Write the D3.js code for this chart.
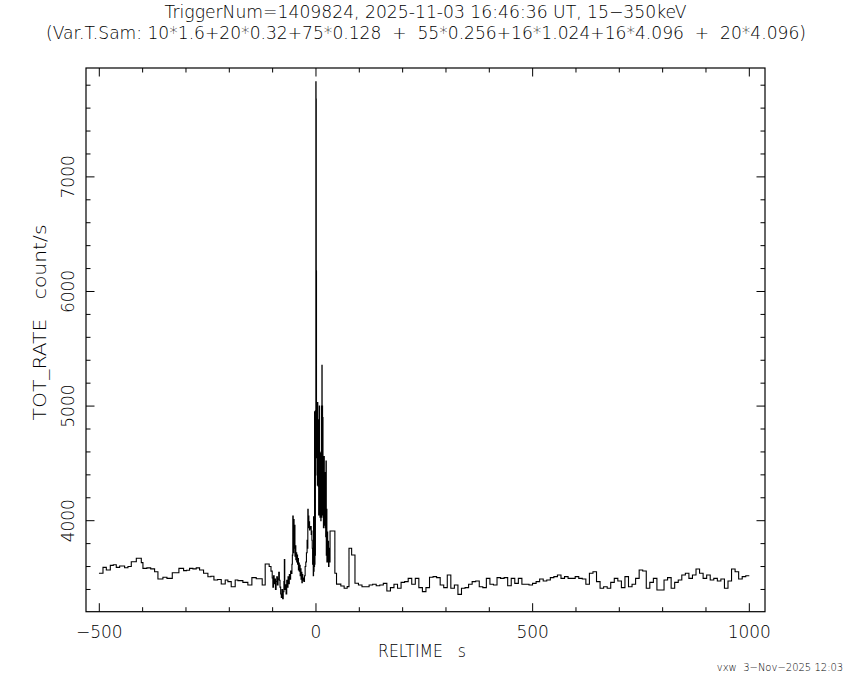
<!DOCTYPE html>
<html><head><meta charset="utf-8">
<script src="https://cdn.jsdelivr.net/npm/d3@7"></script>
<style>
html,body{margin:0;padding:0;background:#fff;}
svg text{font-family:"DejaVu Sans","Liberation Sans",sans-serif;font-weight:200;fill:#000;white-space:pre;}
</style></head>
<body>
<svg id="chart" width="850" height="680"></svg>
<script>
// ---------------- DATA ----------------
const titleLine1 = "TriggerNum=1409824, 2025-11-03 16:46:36 UT, 15\u2212350keV";
const titleLine2 = "(Var.T.Sam: 10*1.6+20*0.32+75*0.128  +  55*0.256+16*1.024+16*4.096  +  20*4.096)";
const xLabel = "RELTIME   s";
const yLabel = "TOT_RATE   count/s";
const footer = "vxw  3\u2212Nov\u22122025 12:03";

const xTickValues = [-500, 0, 500, 1000];
const xTickLabels = ["\u2212500", "0", "500", "1000"];
const yTickValues = [4000, 5000, 6000, 7000];
const yTickLabels = ["4000", "5000", "6000", "7000"];

// pre-burst bins (start times, s) and rates (count/s)
const preTimes = [-500.8,-491.5,-483.8,-474.6,-467.7,-460.8,-453.1,-441.6,-433.9,-426.2,-414.6,-403.1,-399.3,-390.3,-381.4,-372.4,-364.7,-353.2,-343.9,-331.6,-323.9,-316.3,-305.5,-298.6,-291.7,-284,-276.3,-268.6,-259.4,-249.4,-242.5,-235.5,-227,-218.6,-209.4,-203.3,-195.6,-186.4,-180.2,-168.7,-157.2,-147.9,-137.9,-131,-124.1];
const preRates = [3541,3593,3570,3610,3616,3593,3605,3590,3600,3642,3672,3634,3584,3588,3580,3555,3491,3506,3497,3546,3546,3584,3564,3568,3584,3580,3588,3570,3541,3511,3515,3483,3487,3448,3483,3468,3424,3483,3477,3462,3439,3503,3494,3494,3439];

// burst bins, variable sampling
const burstTimes = [-117.2,-108,-103.8,-101,-99.5,-98,-96.5,-95,-93.5,-92,-90.5,-89,-87.5,-86,-84.5,-83,-81.5,-80,-78.5,-77,-75.5,-74,-73,-72,-70.5,-69,-67.5,-66,-64.5,-63,-61.5,-60,-58.5,-57,
 -55.5,-54.5,-53.5,-52.5,-51.5,-50.5,-49.5,-48.5,-47.5,-46.5,-45.5,-44.5,-43.5,-42.5,-41.5,-40.5,-39.5,-38.5,-37.5,-36.5,-35.5,-34.5,-33.5,-32.5,-31.5,-30.5,
 -29.5,-28,-26.5,-25,-23.5,-22,-20.5,-19.5,-18.8,-18,-17.2,-16.4,-15.6,-14.8,-14,-13,-12,-11,-10.2,-9.4,-8.6,-7.8,-7,-6.3,-5.6,-5,-4.4,
 -3.8,-3.3,-2.8,-2.3,-1.8,-1.3,-0.8,-0.3,0.2,0.7,1.2,1.7,2.2,2.7,3.2,3.7,4.2,4.7,5.2,5.7,6.2,6.7,7.2,7.7,8.2,8.7,9.2,9.7,10.2,10.7,11.2,11.7,12.2,12.7,13.2,13.7,14.2,14.7,15.2,15.7,16.2,16.7,17.2,17.7,18.2,18.7,19.2,19.7,20.2,20.7,21.2,21.7,22.4,23.1,23.8,24.5,25.2,26,27,28,29,30,31,
 32.5,43.6,47.4,57.4,65,72,76.2,82.3,90];
const burstRates = [3622,3600,3560,3500,3420,3520,3450,3490,3400,3470,3510,3440,3490,3550,3480,3420,3360,3330,3400,3320,3380,3470,3660,3400,3440,3360,3480,3420,3510,3450,3530,3490,3560,3540,
 3620,3700,4040,3720,4010,3760,3960,3690,3780,3660,3720,3640,3700,3620,3670,3570,3630,3560,3610,3520,3580,3490,3550,3460,3530,3480,
 3500,3470,3520,3600,3640,3720,3830,3760,4100,3980,4040,3940,3990,3920,3950,3930,3948,3880,3910,3830,3760,3620,3700,3520,4035,3560,3980,
 3600,4950,3620,4800,3700,4960,4400,7830,7680,6180,4600,5000,4550,4920,4310,5030,4400,4880,4300,4600,4050,4560,4100,5000,4200,4600,4030,4500,4120,4590,4000,4400,4100,5000,4030,5357,4100,5000,4150,4900,4050,4560,3940,4450,4000,4560,3960,4300,3980,4420,3940,4200,3860,4520,3700,4100,3640,3900,3640,3820,3600,3760,3640,
 3910,3541,3447,3430,3410,3425,3759,3701,3454];

// post-burst 8.2 s bins from 98 s to 1000 s
const postStart = 98, postBin = 8.2;
const postRates = [3439,3424,3424,3439,3445,3433,3439,3453,3387,3416,3445,3410,3462,3468,3497,3445,3497,3416,3381,3416,3506,3512,3503,3439,3416,3526,3410,3439,3357,3410,3416,3445,3468,3474,3424,3416,3497,3445,3439,3503,3497,3503,3433,3497,3453,3497,3445,3445,3439,3453,3468,3491,3474,3483,3503,
 3512,3526,3497,3512,3497,3497,3512,3497,3491,3445,3541,3555,3468,3410,3424,3410,3462,3497,3474,3416,3512,3424,3445,3497,3570,3561,3410,3462,3497,3395,3395,3483,3503,3410,3462,3483,3526,3541,3497,3526,3579,3541,3497,3526,3483,3497,3474,3491,3410,3474,3579,3555,3491,3512,3520];

// ---------------- BUILD ----------------
const bins = [];
preTimes.forEach((t,i)=>bins.push({t, v:preRates[i]}));
burstTimes.forEach((t,i)=>bins.push({t, v:burstRates[i]}));
postRates.forEach((v,i)=>bins.push({t: postStart + i*postBin, v}));
const tEnd = postStart + postRates.length*postBin;
const pts = bins.map(b=>[b.t,b.v]);
pts.push([tEnd, bins[bins.length-1].v]);

const L = 86, R = 765, T = 68, B = 611.7;
const x = d3.scaleLinear().domain([-530.7, 1036.2]).range([L, R]);
const y = d3.scaleLinear().domain([3206, 7950]).range([B, T]);

const svg = d3.select("#chart");

// curve
const line = d3.line().x(d=>x(d[0])).y(d=>y(d[1])).curve(d3.curveStepAfter);
svg.append("path").datum(pts).attr("d", line)
  .attr("fill","none").attr("stroke","#000").attr("stroke-width",1.1);

// frame
svg.append("rect").attr("x",L).attr("y",T).attr("width",R-L).attr("height",B-T)
  .attr("fill","none").attr("stroke","#000").attr("stroke-width",1.2);

// ticks (all four sides)
const xMinor = d3.range(-500, 1001, 100);
const yMinor = d3.range(3400, 7801, 200);
const g = svg.append("g").attr("stroke","#000").attr("stroke-width",1);
xMinor.forEach(v=>{
  const major = v % 500 === 0;
  const len = major ? 8.5 : 4.5;
  g.append("line").attr("x1",x(v)).attr("x2",x(v)).attr("y1",B).attr("y2",B-len);
  g.append("line").attr("x1",x(v)).attr("x2",x(v)).attr("y1",T).attr("y2",T+len);
});
yMinor.forEach(v=>{
  const major = v % 1000 === 0;
  const len = major ? 8.5 : 4.5;
  g.append("line").attr("y1",y(v)).attr("y2",y(v)).attr("x1",L).attr("x2",L+len);
  g.append("line").attr("y1",y(v)).attr("y2",y(v)).attr("x1",R).attr("x2",R-len);
});

// tick labels
xTickValues.forEach((v,i)=>{
  svg.append("text").attr("x",x(v)).attr("y",638).attr("text-anchor","middle")
    .attr("font-size",17).text(xTickLabels[i]);
});
yTickValues.forEach((v,i)=>{
  svg.append("text").attr("transform",`translate(74,${y(v)}) rotate(-90)`)
    .attr("text-anchor","middle").attr("font-size",17).text(yTickLabels[i]);
});

// axis titles
svg.append("text").attr("x",422).attr("y",657).attr("text-anchor","middle")
  .attr("font-size",17).attr("textLength",88).attr("lengthAdjust","spacingAndGlyphs").text(xLabel);
svg.append("text").attr("transform",`translate(46,322.5) rotate(-90)`)
  .attr("text-anchor","middle").attr("font-size",17).attr("textLength",196).attr("lengthAdjust","spacingAndGlyphs").text(yLabel);

// titles
svg.append("text").attr("x",425.5).attr("y",18).attr("text-anchor","middle")
  .attr("font-size",17).attr("textLength",522).attr("lengthAdjust","spacingAndGlyphs").text(titleLine1);
svg.append("text").attr("x",426).attr("y",39).attr("text-anchor","middle")
  .attr("font-size",17).attr("textLength",760).attr("lengthAdjust","spacingAndGlyphs").text(titleLine2);

// footer
svg.append("text").attr("x",780).attr("y",671).attr("text-anchor","middle")
  .attr("font-size",10).text(footer);
</script>
</body></html>
